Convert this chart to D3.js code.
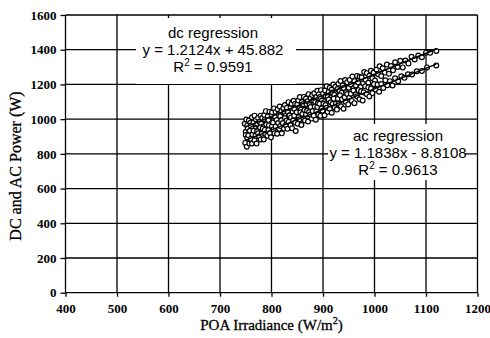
<!DOCTYPE html>
<html>
<head>
<meta charset="utf-8">
<script src="https://cdn.jsdelivr.net/npm/d3@7"></script>
<style>
  body { margin: 0; background: #fff; }
  svg { display: block; }
</style>
</head>
<body>
<div id="chart"></div>
<script>
// data
const xTicks = [400, 500, 600, 700, 800, 900, 1000, 1100, 1200];
const yTicks = [0, 200, 400, 600, 800, 1000, 1200, 1400, 1600];

// [irradiance W/m2, dc power W]
const dcPoints = [
  [748,973],[750,927],[751,998],[753,964],[754,948],[756,992],[757,924],[759,979],[760,962],[762,1011],
  [764,946],[765,981],[767,1020],[769,945],[770,997],[772,974],[774,1007],[775,940],[777,985],[779,1020],
  [780,973],[782,1006],[784,958],[786,1024],[787,998],[789,1046],[791,980],[793,1017],[794,994],[796,1043],
  [798,971],[800,1022],[801,1039],[803,989],[805,1062],[807,1014],[808,1041],[810,992],[812,1057],[814,1028],
  [816,1073],[817,1016],[819,1047],[821,997],[823,1063],[825,1040],[826,1081],[828,1023],[830,1066],[832,1039],
  [833,1098],[835,1023],[837,1064],[839,1089],[841,1043],[843,1106],[844,1060],[846,1089],[848,1034],[850,1084],
  [852,1108],[854,1063],[855,1127],[857,1055],[859,1099],[861,1086],[863,1128],[865,1056],[867,1119],[868,1086],
  [870,1103],[872,1144],[874,1081],[876,1122],[877,1065],[879,1139],[881,1107],[883,1149],[885,1099],[887,1127],
  [889,1163],[890,1093],[892,1144],[894,1127],[896,1167],[898,1107],[900,1147],[902,1098],[904,1165],[905,1133],
  [907,1189],[909,1127],[911,1157],[913,1181],[915,1121],[917,1171],[918,1153],[920,1199],[922,1140],[924,1186],
  [926,1125],[928,1174],[930,1204],[932,1162],[934,1220],[936,1152],[938,1193],[940,1179],[943,1225],[945,1154],
  [947,1212],[950,1181],[952,1226],[954,1200],[957,1245],[959,1178],[961,1219],[964,1194],[966,1249],[968,1211],
  [971,1244],[973,1185],[975,1241],[978,1207],[980,1271],[983,1226],[985,1265],[988,1210],[990,1250],[993,1279],
  [996,1235],[998,1267],[1001,1223],[1004,1286],[1007,1259],[1010,1304],[1013,1248],[1016,1293],[1020,1268],[1024,1315],
  [1028,1261],[1032,1306],[1036,1281],[1040,1328],[1045,1300],[1050,1336],[1055,1298],[1060,1338],[1066,1321],[1072,1359],
  [1078,1344],[1085,1366],[1092,1357],[1100,1383],[1108,1382],[1120,1393]
];

// [irradiance W/m2, ac power W]
const acPoints = [
  [749,863],[750,909],[752,841],[753,891],[755,907],[757,859],[758,933],[760,886],[762,860],[763,911],
  [765,933],[767,879],[769,905],[771,859],[772,930],[774,919],[776,900],[778,952],[779,883],[781,916],
  [783,946],[785,883],[787,938],[788,916],[790,969],[792,905],[794,937],[795,965],[797,919],[799,895],
  [801,959],[803,980],[804,941],[806,918],[808,958],[810,995],[811,916],[813,978],[815,944],[817,960],
  [819,993],[820,918],[822,978],[824,945],[826,1006],[828,965],[829,992],[831,944],[833,984],[835,1021],
  [837,964],[838,1010],[840,947],[842,992],[844,1020],[846,980],[847,932],[849,1040],[851,973],[853,1012],
  [855,999],[856,1040],[858,966],[860,1030],[862,1003],[864,1053],[865,992],[867,1027],[869,1048],[871,986],
  [873,1041],[875,1026],[876,1070],[878,1003],[880,1046],[882,1020],[884,1072],[886,997],[887,1046],[889,1070],
  [891,1027],[893,1088],[895,1019],[897,1061],[899,1048],[901,1089],[903,1022],[905,1081],[907,1066],[909,1042],
  [911,1113],[913,1060],[915,1097],[917,1037],[919,1089],[921,1118],[923,1067],[925,1089],[927,1055],[929,1118],
  [931,1088],[933,1137],[935,1074],[937,1114],[940,1060],[942,1126],[944,1100],[947,1145],[949,1085],[951,1123],
  [954,1146],[956,1105],[959,1165],[961,1092],[964,1143],[966,1132],[969,1167],[971,1115],[974,1160],[977,1107],
  [979,1154],[982,1189],[985,1143],[988,1183],[990,1131],[993,1176],[996,1150],[999,1202],[1002,1171],[1006,1200],
  [1009,1158],[1013,1202],[1017,1179],[1021,1224],[1025,1195],[1030,1219],[1035,1194],[1040,1236],[1046,1218],[1052,1247],
  [1058,1238],[1065,1258],[1073,1257],[1082,1276],[1092,1278],[1102,1298],[1120,1309]
];

// regression results as printed on the chart
const dcFit = { slope: 1.2124, intercept: 45.882, r2: "0.9591", label: "dc regression", eq: "y = 1.2124x + 45.882" };
const acFit = { slope: 1.1838, intercept: -8.8108, r2: "0.9613", label: "ac regression", eq: "y = 1.1838x - 8.8108" };

const width = 490, height = 338;
const margin = { top: 15, right: 12.5, bottom: 45.3, left: 65.5 };
const innerW = width - margin.left - margin.right;
const innerH = height - margin.top - margin.bottom;

const svg = d3.select("#chart").append("svg")
  .attr("width", width)
  .attr("height", height)
  .style("background", "#fff");

const bounds = svg.append("g")
  .attr("transform", `translate(${margin.left},${margin.top})`);

const xScale = d3.scaleLinear().domain([400, 1200]).range([0, innerW]);
const yScale = d3.scaleLinear().domain([0, 1600]).range([innerH, 0]);

// grid
bounds.append("g")
  .selectAll("line")
  .data(yTicks)
  .join("line")
  .attr("x1", 0).attr("x2", innerW)
  .attr("y1", d => yScale(d)).attr("y2", d => yScale(d))
  .attr("stroke", "#000").attr("stroke-width", 1.3);

bounds.append("g")
  .selectAll("line")
  .data(xTicks)
  .join("line")
  .attr("y1", 0).attr("y2", innerH)
  .attr("x1", d => xScale(d)).attr("x2", d => xScale(d))
  .attr("stroke", "#000").attr("stroke-width", 1.3);

// axes (ticks + labels only)
const tickFont = (g) => g.selectAll("text")
  .attr("font-family", "'Liberation Serif', 'Times New Roman', serif")
  .attr("font-size", 13)
  .attr("font-weight", "bold")
  .attr("fill", "#000");

bounds.append("g")
  .call(d3.axisLeft(yScale).tickValues(yTicks).tickSize(5).tickPadding(4).tickFormat(d3.format("d")))
  .call(g => g.select(".domain").remove())
  .call(g => g.selectAll(".tick line").attr("stroke-width", 1.3))
  .call(tickFont);

bounds.append("g")
  .attr("transform", `translate(0,${innerH})`)
  .call(d3.axisBottom(xScale).tickValues(xTicks).tickSize(4).tickPadding(7).tickFormat(d3.format("d")))
  .call(g => g.select(".domain").remove())
  .call(g => g.selectAll(".tick line").attr("stroke-width", 1.3))
  .call(tickFont);

// white boxes behind the regression notes
const noteBoxes = [
  { x0: 136, x1: 296, y0: 18, y1: 84, fit: dcFit, cx: 213, cy: 33 },
  { x0: 328, x1: 465, y0: 124, y1: 180, fit: acFit, cx: 398, cy: 136 }
];

svg.append("g")
  .selectAll("rect")
  .data(noteBoxes)
  .join("rect")
  .attr("x", d => d.x0).attr("y", d => d.y0)
  .attr("width", d => d.x1 - d.x0).attr("height", d => d.y1 - d.y0)
  .attr("fill", "#fff");

// scatter
const drawPoints = (data) => bounds.append("g")
  .selectAll("circle")
  .data(data)
  .join("circle")
  .attr("cx", d => xScale(d[0]))
  .attr("cy", d => yScale(d[1]))
  .attr("r", 2.4)
  .attr("fill", "#fff")
  .attr("stroke", "#000")
  .attr("stroke-width", 1.2);

drawPoints(dcPoints);
drawPoints(acPoints);

// regression lines over the data range
const fitLine = (fit, pts) => {
  const ext = d3.extent(pts, d => d[0]);
  bounds.append("line")
    .attr("x1", xScale(ext[0])).attr("y1", yScale(fit.slope * ext[0] + fit.intercept))
    .attr("x2", xScale(ext[1])).attr("y2", yScale(fit.slope * ext[1] + fit.intercept))
    .attr("stroke", "#000").attr("stroke-width", 1.5);
};
fitLine(dcFit, dcPoints);
fitLine(acFit, acPoints);

// notes
const notes = svg.append("g")
  .attr("font-family", "'Liberation Sans', Arial, sans-serif")
  .attr("font-size", 15)
  .attr("fill", "#000")
  .attr("text-anchor", "middle");

noteBoxes.forEach(b => {
  notes.append("text").attr("x", b.cx).attr("y", b.cy + 5).text(b.fit.label);
  notes.append("text").attr("x", b.cx).attr("y", b.cy + 22).text(b.fit.eq);
  const r = notes.append("text").attr("x", b.cx).attr("y", b.cy + 39);
  r.append("tspan").text("R");
  r.append("tspan").attr("dy", -6).attr("font-size", 10).text("2");
  r.append("tspan").attr("dy", 6).text(" = " + b.fit.r2);
});

// axis titles
const xTitle = svg.append("text")
  .attr("x", margin.left + innerW / 2)
  .attr("y", 330)
  .attr("text-anchor", "middle")
  .attr("font-family", "'Liberation Serif', 'Times New Roman', serif")
  .attr("font-size", 15)
  .attr("stroke", "#000")
  .attr("stroke-width", 0.3);
xTitle.append("tspan").text("POA Irradiance (W/m");
xTitle.append("tspan").attr("dy", -6).attr("font-size", 10).text("2");
xTitle.append("tspan").attr("dy", 6).text(")");

svg.append("text")
  .attr("transform", "translate(21,166) rotate(-90)")
  .attr("text-anchor", "middle")
  .attr("font-family", "'Liberation Serif', 'Times New Roman', serif")
  .attr("font-size", 16)
  .attr("stroke", "#000")
  .attr("stroke-width", 0.3)
  .text("DC and AC Power (W)");
</script>
</body>
</html>
